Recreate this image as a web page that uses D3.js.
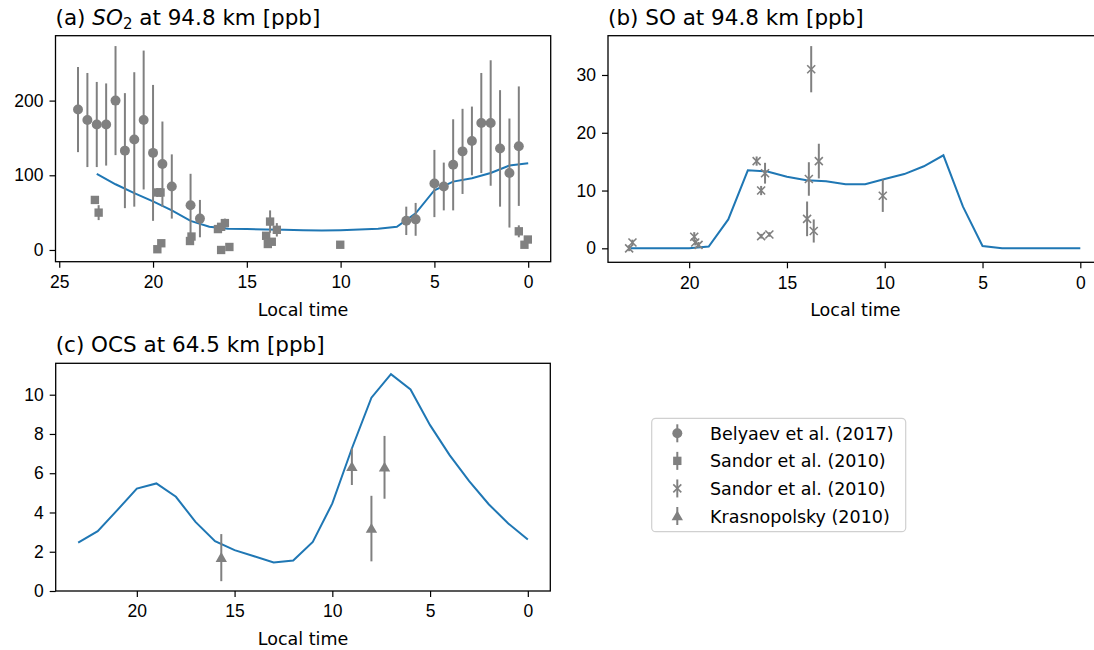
<!DOCTYPE html>
<html>
<head>
  <meta charset="utf-8">
  <title>SO2, SO and OCS local time variation</title>
  <style>
    body { margin: 0; background: #fff; }
    svg { font-family: "DejaVu Sans", sans-serif; }
    .tick text { font-size: 17.5px; fill: #000; }
    .tick line { stroke: #000; stroke-width: 1.2px; }
    .domain { display: none; }
    .frame { fill: none; stroke: #000; stroke-width: 1.3px; }
    .model { fill: none; stroke: #1f77b4; stroke-width: 2px; }
    .err { stroke: #808080; stroke-width: 2px; }
    .title { font-size: 21.5px; }
    .xlabel { font-size: 17.5px; }
  </style>
</head>
<body>
  <svg width="1094" height="650"></svg>
  <script src="https://d3js.org/d3.v7.min.js"></script>
  <script>
    // model local times (hours)
    const modelHour = [23, 22, 21, 20, 19, 18, 17, 16, 15, 14, 13, 12, 11, 10, 9, 8, 7, 6, 5, 4, 3, 2, 1, 0];
    const modelSO2 = [102, 88, 76, 65, 53, 39, 31, 28.5, 28, 27.5, 27, 26.5, 26, 26.5, 27.5, 28.5, 31, 49, 80, 91.5, 96, 103, 113, 116];
    const modelSO = [0, 0, 0, 0, 0.3, 5, 13.5, 13.3, 12.4, 11.8, 11.6, 11.1, 11.1, 12, 12.85, 14.2, 16.1, 7.2, 0.4, 0, 0, 0, 0, 0];
    const modelOCS = [2.47, 3.05, 4.12, 5.22, 5.48, 4.8, 3.52, 2.54, 2.08, 1.77, 1.45, 1.55, 2.5, 4.46, 7.26, 9.85, 11.05, 10.27, 8.45, 6.92, 5.6, 4.42, 3.44, 2.62];

    // Belyaev et al. (2017) SO2
    const belyaevTime = [24, 23.5, 23, 22.5, 22, 21.5, 21, 20.5, 20, 19.5, 19, 18, 17.5, 6.5, 6, 5, 4.5, 4, 3.5, 3, 2.5, 2, 1.5, 1, 0.5];
    const belyaevSO2 = [188, 174, 168, 168, 200, 133, 148, 174, 130, 115, 85, 60, 42, 39, 41, 89, 85, 114, 132, 146, 170, 170, 136, 103, 139];
    const belyaevErr = [57, 63, 57, 55, 73, 77, 90, 93, 91, 57, 43, 42, 25, 19, 22, 45, 32, 61, 57, 46, 67, 84, 78, 73, 80];

    // Sandor et al. (2010) SO2
    const sandorSO2Time = [23.1, 22.9, 19.77, 19.6, 19.77, 19.56, 18.03, 17.95, 16.54, 16.37, 16.17, 16.37, 15.93, 13.97, 13.88, 13.76, 13.67, 13.4, 10.02, 0.5, 0.2, 0.02];
    const sandorSO2 = [67, 50, 77, 77, 1, 9, 12, 18, 28, 31, 36, 0, 4, 19, 8, 38, 11, 27, 7, 25, 7, 14];
    const sandorSO2Err = [4, 10, 6, 6, 1, 2, 2, 3, 2, 3, 6, 1, 1, 4, 3, 15, 3, 9, 1, 8, 2, 3];

    // Sandor et al. (2010) SO
    const sandorSOTime = [23.07, 22.9, 19.74, 19.69, 19.52, 16.55, 16.32, 16.12, 16.32, 15.9, 13.76, 13.88, 13.97, 13.63, 13.37, 10.1];
    const sandorSO = [0, 1, 2, 1, 0.6, 15.1, 10, 13, 2.1, 2.4, 31, 12, 5.1, 3, 15.1, 9.1];
    const sandorSOErr = [0.5, 0.5, 0.8, 0.5, 0.5, 0.8, 0.8, 1.8, 0.4, 0.4, 4, 2.9, 3, 2, 3, 2.8];

    // Krasnopolsky (2010) OCS
    const krasTime = [15.68, 9.0, 8.0, 7.33];
    const krasOCS = [1.7, 6.33, 3.18, 6.3];
    const krasErr = [1.2, 0.93, 1.67, 1.6];

    const legendLabels = ["Belyaev et al. (2017)", "Sandor et al. (2010)", "Sandor et al. (2010)", "Krasnopolsky (2010)"];
    const legendMarkers = ["circle", "square", "x", "triangle"];

    const xTicksA = [25, 20, 15, 10, 5, 0];
    const xTicksBC = [20, 15, 10, 5, 0];
    const yTicksA = [0, 100, 200];
    const yTicksB = [0, 10, 20, 30];
    const yTicksC = [0, 2, 4, 6, 8, 10];

    const svg = d3.select("svg");
    const grey = "#808080";

    function marker(g, type, x, y) {
      if (type === "x") {
        g.append("path")
          .attr("d", `M${x - 4},${y - 4}L${x + 4},${y + 4}M${x - 4},${y + 4}L${x + 4},${y - 4}`)
          .attr("stroke", grey).attr("stroke-width", 1.6).attr("fill", "none");
      } else {
        const sym = type === "circle" ? d3.symbolCircle : type === "square" ? d3.symbolSquare : d3.symbolTriangle;
        const size = type === "circle" ? 78 : type === "square" ? 70 : 56;
        g.append("path")
          .attr("d", d3.symbol().type(sym).size(size)())
          .attr("transform", `translate(${x},${y + (type === "triangle" ? 1 : 0)})`)
          .attr("fill", grey);
      }
    }

    function panel(p) {
      const g = svg.append("g");
      const x = d3.scaleLinear().domain(p.xDomain).range([p.left, p.right]);
      const y = d3.scaleLinear().domain(p.yDomain).range([p.bottom, p.top]);

      g.append("g")
        .attr("transform", `translate(0,${p.bottom})`)
        .call(d3.axisBottom(x).tickValues(p.xTicks).tickSize(6).tickPadding(8).tickFormat(d3.format("d")));
      g.append("g")
        .attr("transform", `translate(${p.left},0)`)
        .call(d3.axisLeft(y).tickValues(p.yTicks).tickSize(6).tickPadding(6).tickFormat(d3.format("d")));

      // model line
      g.append("path")
        .datum(modelHour.map((h, i) => [h, p.model[i]]))
        .attr("class", "model")
        .attr("d", d3.line().x(d => x(d[0])).y(d => y(d[1])));

      // observations
      p.obs.forEach(o => {
        o.t.forEach((t, i) => {
          g.append("line").attr("class", "err")
            .attr("x1", x(t)).attr("x2", x(t))
            .attr("y1", y(o.v[i] - o.e[i])).attr("y2", y(o.v[i] + o.e[i]));
          marker(g, o.type, x(t), y(o.v[i]));
        });
      });

      g.append("rect").attr("class", "frame")
        .attr("x", p.left).attr("y", p.top)
        .attr("width", p.right - p.left).attr("height", p.bottom - p.top);

      const title = g.append("text").attr("class", "title")
        .attr("x", p.left).attr("y", p.top - 11);
      p.title(title);

      g.append("text").attr("class", "xlabel")
        .attr("x", (p.left + p.right) / 2).attr("y", p.bottom + 54)
        .attr("text-anchor", "middle").text("Local time");
    }

    panel({
      left: 55.5, right: 550.7, top: 35.7, bottom: 261.7,
      xDomain: [25.2, -1.2], yDomain: [-15.7, 286.9],
      xTicks: xTicksA, yTicks: yTicksA, model: modelSO2,
      obs: [
        { t: belyaevTime, v: belyaevSO2, e: belyaevErr, type: "circle" },
        { t: sandorSO2Time, v: sandorSO2, e: sandorSO2Err, type: "square" }
      ],
      title: t => {
        t.append("tspan").text("(a) ");
        t.append("tspan").attr("font-style", "italic").text("SO");
        t.append("tspan").attr("font-size", "15px").attr("dy", 4).text("2");
        t.append("tspan").attr("dy", -4).text(" at 94.8 km [ppb]");
      }
    });

    panel({
      left: 608, right: 1102.8, top: 35.7, bottom: 262.3,
      xDomain: [24.15, -1.15], yDomain: [-2.42, 36.8],
      xTicks: xTicksBC, yTicks: yTicksB, model: modelSO,
      obs: [{ t: sandorSOTime, v: sandorSO, e: sandorSOErr, type: "x" }],
      title: t => t.text("(b) SO at 94.8 km [ppb]")
    });

    panel({
      left: 55.7, right: 550.3, top: 363.3, bottom: 591,
      xDomain: [24.15, -1.15], yDomain: [0, 11.6],
      xTicks: xTicksBC, yTicks: yTicksC, model: modelOCS,
      obs: [{ t: krasTime, v: krasOCS, e: krasErr, type: "triangle" }],
      title: t => t.text("(c) OCS at 64.5 km [ppb]")
    });

    // legend
    const lg = svg.append("g");
    lg.append("rect")
      .attr("x", 651.7).attr("y", 418.3).attr("width", 254).attr("height", 113.4)
      .attr("rx", 4).attr("fill", "#fff").attr("stroke", "#d0d0d0").attr("stroke-width", 1.2);
    const rowY = d3.scalePoint().domain(d3.range(legendLabels.length)).range([433.3, 516]);
    legendLabels.forEach((label, i) => {
      const cy = rowY(i);
      lg.append("line").attr("class", "err")
        .attr("x1", 677.3).attr("x2", 677.3).attr("y1", cy - 9).attr("y2", cy + 9);
      marker(lg, legendMarkers[i], 677.3, cy);
      lg.append("text").attr("x", 710).attr("y", cy + 6.5)
        .attr("font-size", "17.5px").text(label);
    });
  </script>
</body>
</html>
